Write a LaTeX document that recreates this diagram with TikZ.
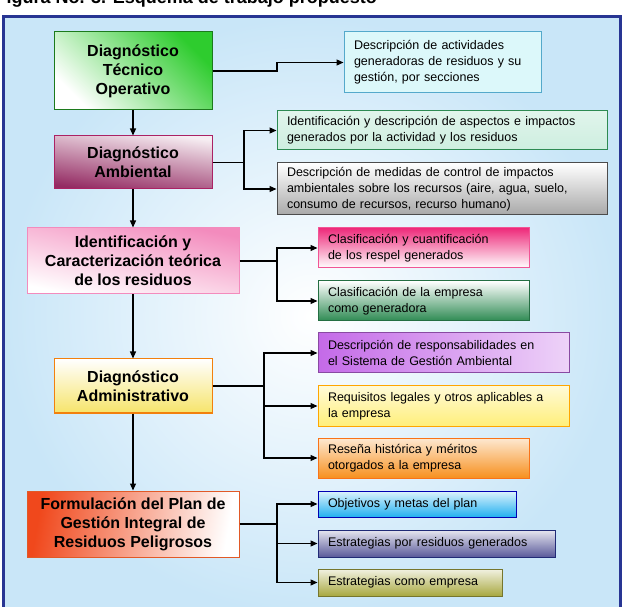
\documentclass[tikz,border=0pt]{standalone}
\usepackage{fontspec}
\setmainfont{Liberation Sans}
\usepackage{tikz}
\usetikzlibrary{arrows.meta}

\definecolor{fondo}{HTML}{C9E6F8}
\definecolor{marco}{HTML}{283593}
\definecolor{verde}{HTML}{2ECC2E}
\definecolor{granate}{HTML}{8E1F5A}
\definecolor{rosa}{HTML}{F38BBD}
\definecolor{amarillo}{HTML}{F6E46A}
\definecolor{naranjarojo}{HTML}{F0481C}
\definecolor{cian}{HTML}{DCF8FA}
\definecolor{menta}{HTML}{CDEEDF}
\definecolor{gris}{HTML}{A8A8A8}
\definecolor{magenta}{HTML}{EE2A7A}
\definecolor{verdeosc}{HTML}{2D8A52}
\definecolor{morado}{HTML}{C46AE8}
\definecolor{amarillo2}{HTML}{FFEF7A}
\definecolor{naranja}{HTML}{F7901E}
\definecolor{azulcel}{HTML}{22B0F0}
\definecolor{pizarra}{HTML}{5A5A9A}
\definecolor{oliva}{HTML}{A8A840}

\tikzset{
  caja/.style={draw, line width=1pt, inner sep=0pt, align=center,
    font=\bfseries\fontsize{16}{19}\selectfont},
  nota/.style={draw, line width=1pt, inner xsep=10pt, inner ysep=0pt, align=left,
    font=\fontsize{12.5}{16}\selectfont},
  flecha/.style={-{Triangle[length=7pt,width=6pt]}, line width=1.2pt}
}

\begin{document}
\begin{tikzpicture}[x=1pt,y=-1pt]
  \useasboundingbox (0,0) rectangle (625,607);
  \shade[inner color=white, outer color=fondo] (3,17) rectangle (620,615);
  \draw[marco, line width=3pt] (3,17) rectangle (620,615);
  \node[anchor=base west, font=\bfseries\fontsize{18}{21}\selectfont] (titulo) at (-8,4)
    {Figura No. 3. Esquema de trabajo propuesto};

  % columna principal
  \node[caja, minimum width=158pt, minimum height=78pt, draw=verde!60!black,
    top color=verde, bottom color=white, shading angle=-45] (tec) at (133,71)
    {Diagnóstico\\Técnico\\Operativo};
  \node[caja, minimum width=158pt, minimum height=53pt, draw=granate!70!magenta,
    top color=granate!8, bottom color=granate!95, shading angle=-8] (amb) at (133,162.5)
    {Diagnóstico\\Ambiental};
  \node[caja, minimum width=212pt, minimum height=66pt, draw=rosa,
    top color=rosa, bottom color=white, shading angle=-12] (ident) at (133,261)
    {Identificación y\\Caracterización teórica\\de los residuos};
  \node[caja, minimum width=158pt, minimum height=54pt, draw=orange!80!brown,
    top color=white, bottom color=amarillo] (adm) at (133,386)
    {Diagnóstico\\Administrativo};
  \node[caja, minimum width=212pt, minimum height=66pt, draw=naranjarojo!70!brown,
    left color=naranjarojo, right color=white, shading angle=80] (form) at (133,524)
    {Formulación del Plan de\\Gestión Integral de\\Residuos Peligrosos};

  % cajas de detalle
  \node[nota, minimum width=197pt, minimum height=61pt, text width=177pt,
    fill=cian, draw=cyan!60!gray] (act) at (442.5,62.5)
    {Descripción de actividades\\generadoras de residuos y su\\gestión, por secciones};
  \node[nota, minimum width=330pt, minimum height=39pt, text width=310pt,
    top color=menta!60, bottom color=menta, draw=verdeosc] (asp) at (442,130.5)
    {Identificación y descripción de aspectos e impactos\\generados por la actividad y los residuos};
  \node[nota, minimum width=330pt, minimum height=52pt, text width=310pt,
    top color=white, bottom color=gris, draw=black!70] (med) at (442,189)
    {Descripción de medidas de control de impactos\\ambientales sobre los recursos (aire, agua, suelo,\\consumo de recursos, recurso humano)};
  \node[nota, minimum width=211pt, minimum height=40pt, text width=191pt,
    top color=magenta, bottom color=white, draw=magenta!80] (cla) at (423.5,248)
    {Clasificación y cuantificación\\de los respel generados};
  \node[nota, minimum width=211pt, minimum height=40pt, text width=191pt,
    top color=white, bottom color=verdeosc, draw=verdeosc!80!black] (gen) at (423.5,301)
    {Clasificación de la empresa\\como generadora};
  \node[nota, minimum width=251pt, minimum height=40pt, text width=231pt,
    left color=morado, right color=morado!30, draw=morado!70!black] (res) at (443.5,353)
    {Descripción de responsabilidades en\\el Sistema de Gestión Ambiental};
  \node[nota, minimum width=251pt, minimum height=40pt, text width=231pt,
    top color=amarillo2!30, bottom color=amarillo2, draw=orange!70!yellow] (req) at (443.5,406)
    {Requisitos legales y otros aplicables a\\la empresa};
  \node[nota, minimum width=211pt, minimum height=40pt, text width=191pt,
    top color=naranja!20, bottom color=naranja, draw=naranja!80!red] (hist) at (423.5,458)
    {Reseña histórica y méritos\\otorgados a la empresa};
  \node[nota, minimum width=198pt, minimum height=26pt, text width=178pt,
    top color=azulcel!15, bottom color=azulcel, draw=blue!70!black] (obj) at (417,504)
    {Objetivos y metas del plan};
  \node[nota, minimum width=237pt, minimum height=27pt, text width=217pt,
    top color=pizarra!15, bottom color=pizarra, draw=marco!80!black] (estr) at (436.5,543.5)
    {Estrategias por residuos generados};
  \node[nota, minimum width=184pt, minimum height=27pt, text width=164pt,
    top color=oliva!15, bottom color=oliva, draw=oliva!70!black] (emp) at (410,582.5)
    {Estrategias como empresa};

  % puntos de quiebre
  \coordinate (q1) at (277,0);
  \coordinate (q2) at (244,0);
  \coordinate (q3) at (277,0);
  \coordinate (q4) at (264,0);
  \coordinate (q5) at (277,0);

  \draw[flecha] (tec) -- (amb);
  \draw[flecha] (amb) -- (ident);
  \draw[flecha] (ident) -- (adm);
  \draw[flecha] (adm) -- (form);

  \draw[flecha] (tec.east) -- (tec.east -| q1) |- (act.west);
  \draw[flecha] (amb.east) -- (amb.east -| q2) |- (asp.west);
  \draw[flecha] (amb.east -| q2) |- (med.west);
  \draw[flecha] (ident.east) -- (ident.east -| q3) |- (cla.west);
  \draw[flecha] (ident.east -| q3) |- (gen.west);
  \draw[flecha] (adm.east) -- (adm.east -| q4) |- (res.west);
  \draw[flecha] (adm.east -| q4) |- (req.west);
  \draw[flecha] (adm.east -| q4) |- (hist.west);
  \draw[flecha] (form.east) -- (form.east -| q5) |- (obj.west);
  \draw[flecha] (form.east -| q5) |- (estr.west);
  \draw[flecha] (form.east -| q5) |- (emp.west);
\end{tikzpicture}
\end{document}
